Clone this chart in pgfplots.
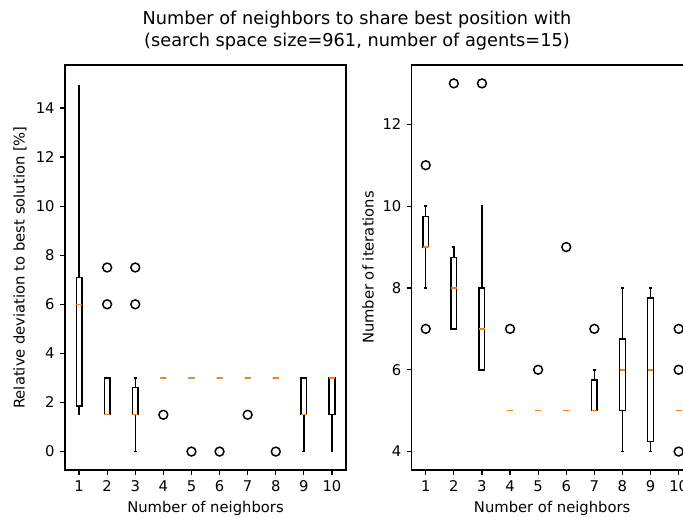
\documentclass[border=0pt]{standalone}
\usepackage{fontspec}
\setmainfont{DejaVu Sans}
\usepackage{pgfplots}
\usepgfplotslibrary{statistics}
\pgfplotsset{compat=1.18}
\definecolor{mplorange}{RGB}{255,127,14}

\pgfplotsset{
  panel/.style={
    scale only axis,
    width=189.6bp, height=273.25bp,
    xmin=0.5, xmax=10.5,
    xtick={1,...,10},
    tick align=outside,
    xtick pos=left, ytick pos=left,
    major tick length=3.5pt,
    axis line style={line width=0.8pt},
    every tick/.style={black, line width=0.8pt},
    /pgf/number format/assume math mode=true,
    tick label style={font=\fontsize{10}{12}\selectfont},
    label style={font=\fontsize{10}{12}\selectfont},
    xlabel={Number of neighbors},
    xlabel style={at={(axis description cs:0.5,0)}, anchor=center, yshift=-25.6bp},
    ylabel style={at={(axis description cs:-0.16,0.5)}, anchor=center},
    boxplot/draw direction=y,
    boxplot/box extend=0.2,
    boxplot/whisker extend=0.1,
    boxplot/every box/.style={draw=black, line width=1pt},
    boxplot/every whisker/.style={draw=black, line width=1pt},
    boxplot/every median/.style={draw=mplorange, line width=1pt},
  },
  bx/.style={black, mark=o, mark size=3pt, mark options={line width=1pt, black, fill=none}},
}

\begin{document}
\begin{tikzpicture}
% left panel: relative deviation
\begin{axis}[panel,
  ymin=-0.75, ymax=15.75,
  ytick={0,2,...,14},
  ylabel={Relative deviation to best solution [\%]},
]
\addplot[bx, boxplot prepared={draw position=1, lower whisker=1.5, lower quartile=1.85, median=6, upper quartile=7.1, upper whisker=14.9}] coordinates {};
\addplot[bx, boxplot prepared={draw position=2, lower whisker=1.5, lower quartile=1.5, median=1.5, upper quartile=3, upper whisker=3}] coordinates {(0,6) (0,7.5)};
\addplot[bx, boxplot prepared={draw position=3, lower whisker=0, lower quartile=1.5, median=1.5, upper quartile=2.6, upper whisker=3}] coordinates {(0,6) (0,7.5)};
\addplot[bx, boxplot prepared={draw position=4, lower whisker=3, lower quartile=3, median=3, upper quartile=3, upper whisker=3}] coordinates {(0,1.5)};
\addplot[bx, boxplot prepared={draw position=5, lower whisker=3, lower quartile=3, median=3, upper quartile=3, upper whisker=3}] coordinates {(0,0)};
\addplot[bx, boxplot prepared={draw position=6, lower whisker=3, lower quartile=3, median=3, upper quartile=3, upper whisker=3}] coordinates {(0,0)};
\addplot[bx, boxplot prepared={draw position=7, lower whisker=3, lower quartile=3, median=3, upper quartile=3, upper whisker=3}] coordinates {(0,1.5)};
\addplot[bx, boxplot prepared={draw position=8, lower whisker=3, lower quartile=3, median=3, upper quartile=3, upper whisker=3}] coordinates {(0,0)};
\addplot[bx, boxplot prepared={draw position=9, lower whisker=0, lower quartile=1.5, median=1.5, upper quartile=3, upper whisker=3}] coordinates {};
\addplot[bx, boxplot prepared={draw position=10, lower whisker=0, lower quartile=1.5, median=3, upper quartile=3, upper whisker=3}] coordinates {};
\end{axis}

% right panel: iterations
\begin{axis}[panel, xshift=233.9bp,
  ymin=3.55, ymax=13.45,
  ytick={4,6,...,12},
  ylabel={Number of iterations},
  ylabel style={at={(axis description cs:-0.155,0.5)}},
]
\addplot[bx, boxplot prepared={draw position=1, lower whisker=8, lower quartile=9, median=9, upper quartile=9.75, upper whisker=10}] coordinates {(0,7) (0,11)};
\addplot[bx, boxplot prepared={draw position=2, lower whisker=7, lower quartile=7, median=8, upper quartile=8.75, upper whisker=9}] coordinates {(0,13)};
\addplot[bx, boxplot prepared={draw position=3, lower whisker=6, lower quartile=6, median=7, upper quartile=8, upper whisker=10}] coordinates {(0,13)};
\addplot[bx, boxplot prepared={draw position=4, lower whisker=5, lower quartile=5, median=5, upper quartile=5, upper whisker=5}] coordinates {(0,7)};
\addplot[bx, boxplot prepared={draw position=5, lower whisker=5, lower quartile=5, median=5, upper quartile=5, upper whisker=5}] coordinates {(0,6)};
\addplot[bx, boxplot prepared={draw position=6, lower whisker=5, lower quartile=5, median=5, upper quartile=5, upper whisker=5}] coordinates {(0,9)};
\addplot[bx, boxplot prepared={draw position=7, lower whisker=5, lower quartile=5, median=5, upper quartile=5.75, upper whisker=6}] coordinates {(0,7)};
\addplot[bx, boxplot prepared={draw position=8, lower whisker=4, lower quartile=5, median=6, upper quartile=6.75, upper whisker=8}] coordinates {};
\addplot[bx, boxplot prepared={draw position=9, lower whisker=4, lower quartile=4.25, median=6, upper quartile=7.75, upper whisker=8}] coordinates {};
\addplot[bx, boxplot prepared={draw position=10, lower whisker=5, lower quartile=5, median=5, upper quartile=5, upper whisker=5}] coordinates {(0,4) (0,6) (0,7)};
\end{axis}

\node[align=center, font=\fontsize{12}{14.4}\selectfont] at (197bp,296.5bp)
  {Number of neighbors to share best position with\\(search space size=961, number of agents=15)};

% the reference image is cut off at the right edge
\pgfresetboundingbox
\path[use as bounding box] (-43.86bp,-32.39bp) rectangle (416.96bp,317.1bp);
\end{tikzpicture}
\end{document}
